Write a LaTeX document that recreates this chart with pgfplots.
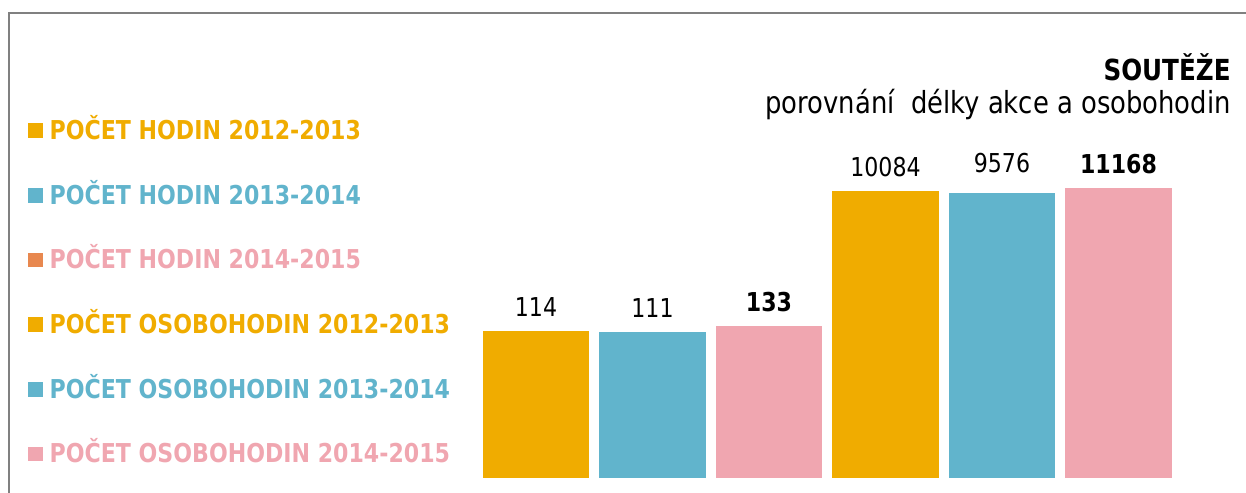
\documentclass[border=0pt]{standalone}
\usepackage{pgfplots}
\pgfplotsset{compat=1.18}
\usepackage{fontspec}
\setmainfont{DejaVu Sans}[FakeStretch=0.85]
\definecolor{cO}{HTML}{F0AC00}
\definecolor{cB}{HTML}{61B4CC}
\definecolor{cP}{HTML}{F0A6B0}
\definecolor{cM}{HTML}{E8884F}
\definecolor{frame}{RGB}{128,128,128}

\begin{document}
\begin{tikzpicture}[x=0.5pt,y=0.5pt]
\useasboundingbox (0,0) rectangle (1246,492);
\draw[line width=1pt, frame] (9,-5) -- (9,479) -- (1250,479);
\begin{axis}[
  at={(238.875pt,7pt)}, anchor=south west,
  scale only axis, width=349.5pt, height=179pt,
  ymode=log, ymin=1, ymax=1e5,
  xmin=0.5, xmax=6.5,
  axis lines=none, clip=false,
  ybar, bar width=53pt, bar shift=0pt,
  point meta=explicit symbolic,
  nodes near coords,
  every node near coord/.append style={font=\fontsize{13}{15}\selectfont, black, yshift=3.5pt},
  legend image code/.code={\fill (0pt,-4pt) rectangle (7.3pt,3.3pt); \path (10.6pt,0pt);},
  legend style={at={(-0.6434,1.0)}, anchor=north west, draw=none, fill=none,
    inner sep=0pt, row sep=22.85pt,
    font=\fontsize{13}{15}\selectfont\bfseries,
    nodes={inner sep=0pt, text height=9.5pt, text depth=0pt},
    cells={anchor=west}},
]
\addlegendimage{fill=cO, draw=none}
\addlegendentry{\textcolor{cO}{POČET HODIN 2012-2013}}
\addlegendimage{fill=cB, draw=none}
\addlegendentry{\textcolor{cB}{POČET HODIN 2013-2014}}
\addlegendimage{fill=cM, draw=none}
\addlegendentry{\textcolor{cP}{POČET HODIN 2014-2015}}
\addlegendimage{fill=cO, draw=none}
\addlegendentry{\textcolor{cO}{POČET OSOBOHODIN 2012-2013}}
\addlegendimage{fill=cB, draw=none}
\addlegendentry{\textcolor{cB}{POČET OSOBOHODIN 2013-2014}}
\addlegendimage{fill=cP, draw=none}
\addlegendentry{\textcolor{cP}{POČET OSOBOHODIN 2014-2015}}

\addplot[fill=cO, draw=none, forget plot] coordinates {(1,114) [114]};
\addplot[fill=cB, draw=none, forget plot] coordinates {(2,111) [111]};
\addplot[fill=cP, draw=none, forget plot,
  every node near coord/.append style={font=\fontsize{13}{15}\selectfont\bfseries}] coordinates {(3,133) [133]};
\addplot[fill=cO, draw=none, forget plot] coordinates {(4,10084) [10084]};
\addplot[fill=cB, draw=none, forget plot,
  every node near coord/.append style={yshift=3pt}] coordinates {(5,9576) [9576]};
\addplot[fill=cP, draw=none, forget plot,
  every node near coord/.append style={font=\fontsize{13}{15}\selectfont\bfseries}] coordinates {(6,11168) [11168]};
\end{axis}
\node[anchor=base east, inner sep=0pt, font=\fontsize{14.5}{17}\selectfont\bfseries] at (1231,411) {SOUTĚŽE};
\node[anchor=base east, inner sep=0pt, font=\fontsize{15.2}{18}\selectfont] at (1231,378) {porovnání\ \ délky akce a osobohodin};
\end{tikzpicture}
\end{document}
